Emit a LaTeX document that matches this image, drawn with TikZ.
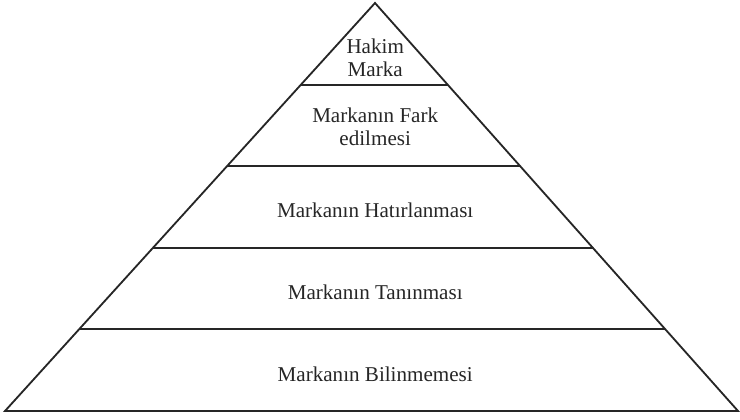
\documentclass[tikz,border=0pt]{standalone}
\usepackage{fontspec}
\setmainfont{Liberation Serif}
\usetikzlibrary{calc}
\tikzset{
  edge/.style={line width=1.3pt, draw=black!85},
  layer/.style={inner sep=0pt, align=center, font=\fontsize{15}{16.5}\selectfont, text=black!85}
}
\begin{document}
\begin{tikzpicture}
            \useasboundingbox (0,0) rectangle (18.5,10.475);
            \coordinate (top) at (9.375,10.4);
            \coordinate (bl) at (0.125,0.2);
            \coordinate (br) at (18.45,0.2);
            \draw[edge, line join=miter] (bl) -- (top) -- (br) -- cycle;
            \foreach \i in {1,...,4} {
                \coordinate (l\i) at ($(top)!\i/5!(bl)$);
                \coordinate (r\i) at ($(top)!\i/5!(br)$);
                \draw[edge] (l\i) -- (r\i);
            }
            \node[layer] (hakim) at (9.38,9.04) {Hakim\\Marka};
            \node[layer] (fark) at (9.38,7.3) {Markanın Fark\\edilmesi};
            \node[layer] (hatir) at (9.38,5.225) {Markanın Hatırlanması};
            \node[layer] (tani) at (9.38,3.175) {Markanın Tanınması};
            \node[layer] (bilin) at (9.38,1.125) {Markanın Bilinmemesi};
        \end{tikzpicture}
\end{document}
